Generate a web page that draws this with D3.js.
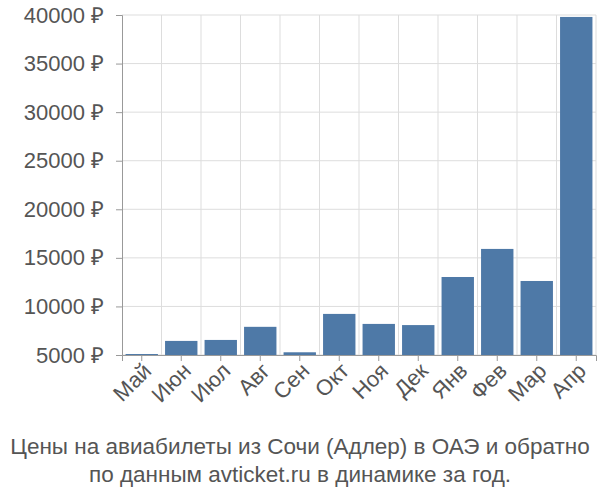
<!DOCTYPE html><html><head><meta charset="utf-8"><script src="https://cdn.jsdelivr.net/npm/d3@7"></script>
<style>body{margin:0}svg{font-family:"Liberation Sans",Arial,sans-serif}</style></head><body><svg width="600" height="500"></svg><script>
const categories=["Май","Июн","Июл","Авг","Сен","Окт","Ноя","Дек","Янв","Фев","Мар","Апр"];
const values=[5100,6450,6550,7900,5280,9230,8200,8080,13030,15920,12620,39800];
const yTicks=[5000,10000,15000,20000,25000,30000,35000,40000];
const svg=d3.select("svg"),L=122,R=596,T=15,B=355;
const x=d3.scaleBand().domain(categories).range([L,R]).paddingInner(0.18).paddingOuter(0.09);
const y=d3.scaleLinear().domain([5000,40000]).range([B,T]);
const g=svg.append("g");
yTicks.forEach(t=>g.append("line").attr("x1",L).attr("x2",R).attr("y1",y(t)).attr("y2",y(t)).attr("stroke","#ddd"));
const step=x.step();
categories.forEach((c,i)=>{const xx=x(c)-x.paddingInner()*step/2+step;g.append("line").attr("x1",xx).attr("x2",xx).attr("y1",T).attr("y2",B).attr("stroke","#ddd");});
g.selectAll("rect").data(values).join("rect").attr("x",(d,i)=>x(categories[i])).attr("width",x.bandwidth())
 .attr("y",d=>y(d)).attr("height",d=>B-y(d)).attr("fill","#4e79a7");
const ya=svg.append("g").attr("transform",`translate(${L},0)`).call(d3.axisLeft(y).tickValues(yTicks).tickSize(6).tickPadding(12).tickFormat(d=>d+" ₽"));
ya.select(".domain").attr("stroke","#999");ya.selectAll("line").attr("stroke","#999");
ya.selectAll("text").attr("font-size",22).attr("fill","#555");
const xa=svg.append("g").attr("transform",`translate(0,${B})`).call(d3.axisBottom(x).tickSize(6));
xa.select(".domain").attr("stroke","#999");xa.selectAll("line").attr("stroke","#999");
xa.selectAll("text").attr("font-size",22).attr("fill","#555").attr("text-anchor","end").attr("dx","-0.2em").attr("dy","0.5em").attr("transform","rotate(-45)");
svg.append("text").attr("x",300).attr("y",454).attr("text-anchor","middle").attr("font-size",22.5).attr("fill","#555").text("Цены на авиабилеты из Сочи (Адлер) в ОАЭ и обратно");
svg.append("text").attr("x",300).attr("y",482).attr("text-anchor","middle").attr("font-size",22.5).attr("fill","#555").text("по данным avticket.ru в динамике за год.");
</script></body></html>
